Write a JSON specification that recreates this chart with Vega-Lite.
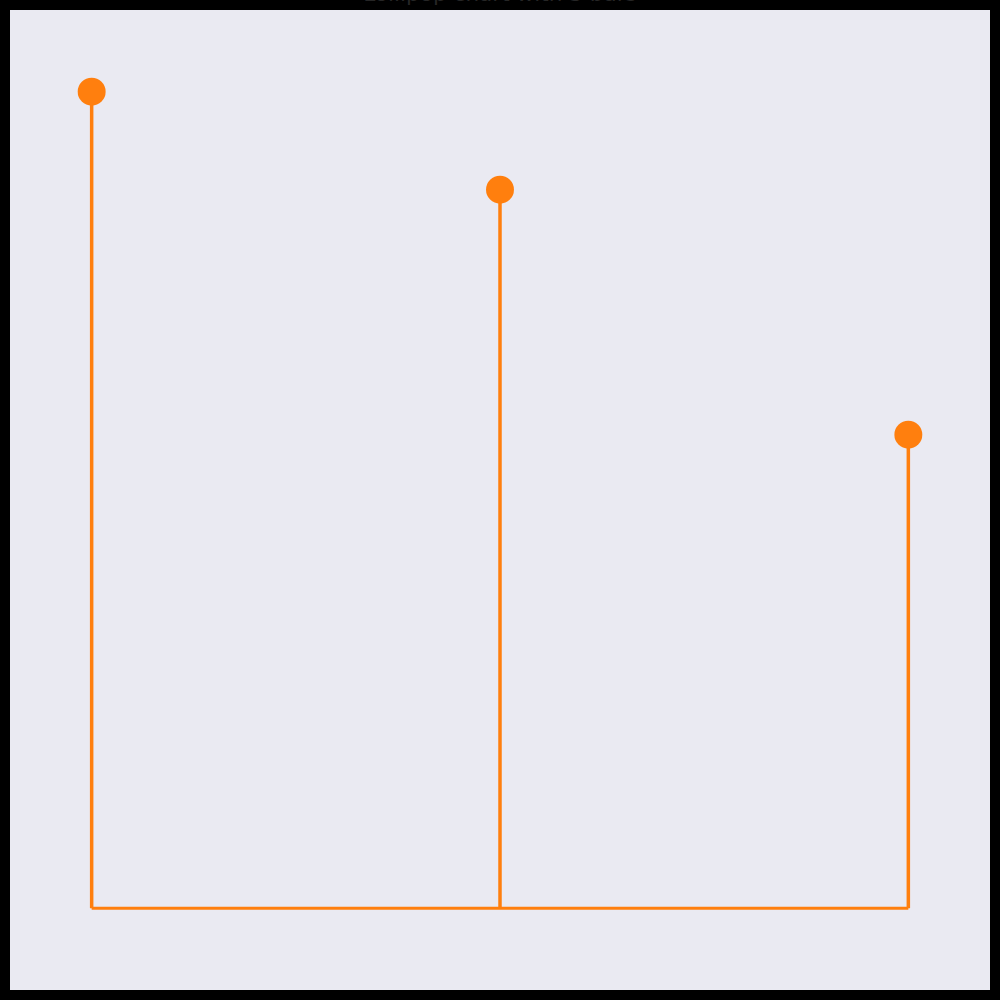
{
  "$schema": "https://vega.github.io/schema/vega-lite/v6.json",
  "width": 980,
  "height": 980,
  "padding": 10,
  "autosize": {"type": "none"},
  "background": "#000000",
  "title": {"text": "Lollipop chart with 3 bars", "fontSize": 21.6, "font": "DejaVu Sans", "fontWeight": "normal", "color": "#262626", "anchor": "middle", "offset": 4},
  "config": {"view": {"fill": "#eaeaf2", "stroke": null}},
  "data": {"values": [
    {"bar": 0, "value": 10},
    {"bar": 1, "value": 8.8},
    {"bar": 2, "value": 5.8}
  ]},
  "layer": [
    {"mark": {"type": "rule", "color": "#ff7f0e", "strokeWidth": 3},
     "encoding": {
       "x": {"field": "bar", "type": "quantitative", "aggregate": "min", "scale": {"domain": [-0.2, 2.2]}, "axis": null},
       "x2": {"field": "bar", "aggregate": "max"},
       "y": {"datum": 0, "type": "quantitative", "scale": {"domain": [-1, 11]}, "axis": null}}},
    {"mark": {"type": "rule", "color": "#ff7f0e", "strokeWidth": 3.5},
     "encoding": {
       "x": {"field": "bar", "type": "quantitative", "scale": {"domain": [-0.2, 2.2]}, "axis": null},
       "y": {"field": "value", "type": "quantitative", "scale": {"domain": [-1, 11]}, "axis": null},
       "y2": {"datum": 0}}},
    {"mark": {"type": "circle", "color": "#ff7f0e", "opacity": 1, "size": 780},
     "encoding": {
       "x": {"field": "bar", "type": "quantitative", "scale": {"domain": [-0.2, 2.2]}, "axis": null},
       "y": {"field": "value", "type": "quantitative", "scale": {"domain": [-1, 11]}, "axis": null}}}
  ]
}
